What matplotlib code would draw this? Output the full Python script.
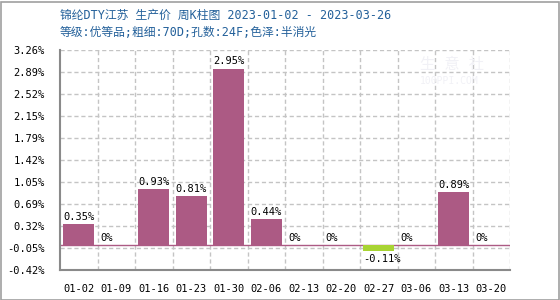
import matplotlib
matplotlib.use("Agg")
import matplotlib.pyplot as plt
import numpy as np
from matplotlib.patches import Rectangle

categories = ["01-02", "01-09", "01-16", "01-23", "01-30", "02-06",
              "02-13", "02-20", "02-27", "03-06", "03-13", "03-20"]
values = [0.35, 0, 0.93, 0.81, 2.95, 0.44, 0, 0, -0.11, 0, 0.89, 0]
ytick_labels = ["-0.42%", "-0.05%", "0.32%", "0.69%", "1.05%", "1.42%",
                "1.79%", "2.15%", "2.52%", "2.89%", "3.26%"]
title = "锦纶DTY江苏 生产价 周K柱图 2023-01-02 - 2023-03-26"
subtitle = "等级:优等品;粗细:70D;孔数:24F;色泽:半消光"

pos_color = "#AC5A84"
neg_color = "#A8D433"
fam = ["DejaVu Sans Mono", "Noto Sans CJK SC"]

fig = plt.figure(figsize=(5.6, 3.0), dpi=100)
ax = fig.add_axes([60/560, 30/300, 450/560, 220/300])

x = np.arange(len(categories))
w = 0.83
colors = [neg_color if v < 0 else pos_color for v in values]
ax.bar(x, values, width=w, color=colors, zorder=3)
ax.axhline(0, color=pos_color, lw=1, zorder=2)

for xi, v in zip(x, values):
    lab = f"{v:g}%"
    if v >= 0:
        ax.annotate(lab, (xi - w/2, v), xytext=(0, 1.5), textcoords="offset points",
                    ha="left", va="bottom", fontsize=7.5, family=fam, zorder=4)
    else:
        ax.annotate(lab, (xi - w/2, v), xytext=(0, -1.5), textcoords="offset points",
                    ha="left", va="top", fontsize=7.5, family=fam, zorder=4)

ymin, ymax = -0.42, 3.26
ax.set_ylim(ymin, ymax)
ax.set_xlim(-0.5, len(categories) - 0.5)
yt = np.linspace(ymin, ymax, len(ytick_labels))
ax.set_yticks(yt)
ax.set_yticklabels(ytick_labels, family=fam, fontsize=7.5)
ax.set_xticks(x)
ax.set_xticklabels(categories, family=fam, fontsize=7.5)
ax.tick_params(length=0, pad=10, axis="x")
ax.tick_params(length=0, pad=11, axis="y")

# grid
for yy in yt[1:]:
    ax.axhline(yy, color="#c4c4c4", lw=1, ls=(0, (3, 2)), zorder=1)
for xb in np.arange(0.5, len(categories) + 0.5, 1):
    ax.axvline(xb, color="#c4c4c4", lw=1, ls=(0, (3, 2)), zorder=1)

for s in ["top", "right"]:
    ax.spines[s].set_visible(False)
for s in ["left", "bottom"]:
    ax.spines[s].set_color("#8a8a8a")
    ax.spines[s].set_linewidth(1.5)

# watermark
fig.text(420/560, 1 - 65/300, "生 意 社", color="#f1f1f6", fontsize=11, family=fam,
         ha="left", va="center", zorder=0)
fig.text(420/560, 1 - 81/300, "100PPI.COM", color="#f1f1f6", fontsize=7, family=fam,
         ha="left", va="center", zorder=0)

fig.text(60/560, 1 - 15/300, title, color="#23609a", fontsize=8.5, family=fam,
         ha="left", va="center")
fig.text(60/560, 1 - 33/300, subtitle, color="#23609a", fontsize=8.5, family=fam,
         ha="left", va="center")

fig.patches.append(Rectangle((0.5/560, 0.5/300), 1 - 2/560, 1 - 2/300,
                             transform=fig.transFigure, fill=False,
                             edgecolor="#a0a0a0", lw=1.2))

fig.savefig("out.png", dpi=100)
